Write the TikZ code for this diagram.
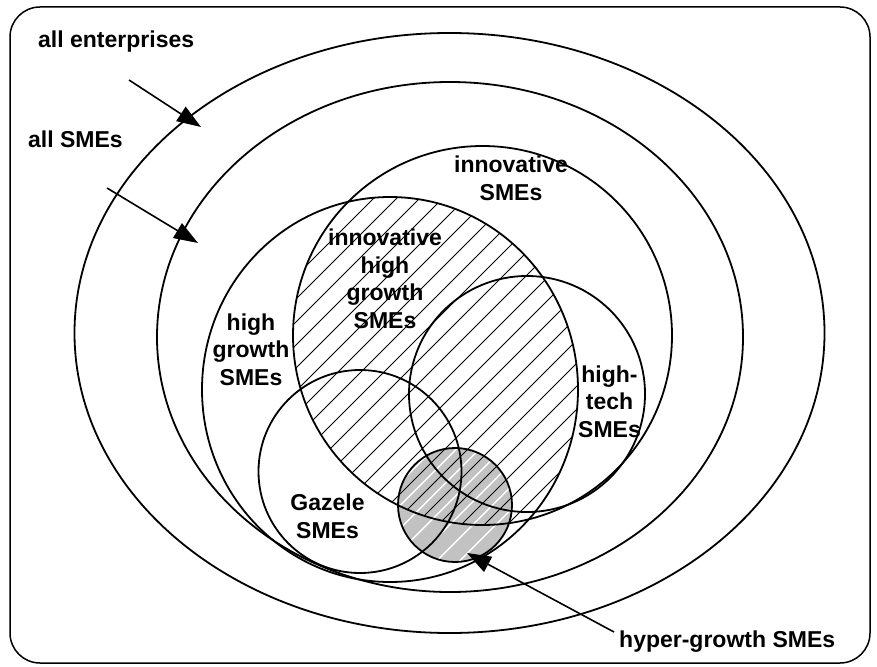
\documentclass[tikz,border=0pt]{standalone}
\usepackage{fontspec}
\setmainfont{Liberation Sans}
\usetikzlibrary{arrows.meta}
\begin{document}
\begin{tikzpicture}[x=1pt,y=-1pt,
  ring/.style={line width=1.8pt},
  lbl/.style={font=\fontsize{23}{27.5}\selectfont\bfseries, inner sep=0pt, align=center},
  arr/.style={line width=1.6pt, -{Triangle[length=24pt,width=17pt]}},
  hatchline/.style={line width=0.8pt}]
\useasboundingbox (0,0) rectangle (877,666);
\draw[line width=1.5pt, rounded corners=30pt] (10,7) rectangle (870,663);

% hyper-growth fill
\fill[black!24] (455,505) circle (57pt);
\begin{scope}
  \clip (455,505) circle (57pt);
  \foreach \k in {0,...,50} {
    \pgfmathsetmacro{\c}{261.5+23*\k}
    \draw[white, line width=1.4pt] (\c,0) -- ++(-700,700);
  }
\end{scope}

% hatched region: innovative AND high growth
\begin{scope}
  \clip (482.5,335.5) circle (189.5pt);
  \clip (390,389.5) ellipse [x radius=188pt, y radius=192.5pt];
  \foreach \k in {0,...,50} {
    \pgfmathsetmacro{\c}{250+23*\k}
    \draw[hatchline] (\c,0) -- ++(-700,700);
  }
\end{scope}

% rings
\draw[ring] (449.5,333) ellipse [x radius=375pt, y radius=300pt];
\draw[ring] (450,337) ellipse [x radius=293pt, y radius=255pt];
\draw[ring] (482.5,335.5) circle (189.5pt);
\draw[ring] (390,389.5) ellipse [x radius=188pt, y radius=192.5pt];
\draw[ring] (527,394) circle (118pt);
\draw[ring] (360,471.5) circle (101.5pt);
\draw[ring] (455,505) circle (57pt);

% labels (base = baseline of the last line)
\node[lbl, anchor=base west] (allent) at (38,48) {all enterprises};
\node[lbl, anchor=base west] (allsme) at (28,147) {all SMEs};
\node[lbl, anchor=base] (innov) at (511,200) {innovative\\SMEs};
\node[lbl, anchor=base] (ihg) at (385,328) {innovative\\high\\growth\\SMEs};
\node[lbl, anchor=base] (hg) at (251,385) {high\\growth\\SMEs};
\node[lbl, anchor=base] (gaz) at (327.5,538) {Gazele\\SMEs};
\node[lbl, anchor=base] (ht) at (609.5,437) {high-\\tech\\SMEs};
\node[lbl, anchor=base west] (hyper) at (619,647) {hyper-growth SMEs};

% arrows
\coordinate (a1s) at (129,80);
\coordinate (a1e) at (201,127);
\coordinate (a2s) at (107,188);
\coordinate (a2e) at (198,243);
\coordinate (a3s) at (614,632);
\coordinate (a3e) at (467,553);
\draw[arr] (a1s) -- (a1e);
\draw[arr] (a2s) -- (a2e);
\draw[arr] (a3s) -- (a3e);
\end{tikzpicture}
\end{document}
